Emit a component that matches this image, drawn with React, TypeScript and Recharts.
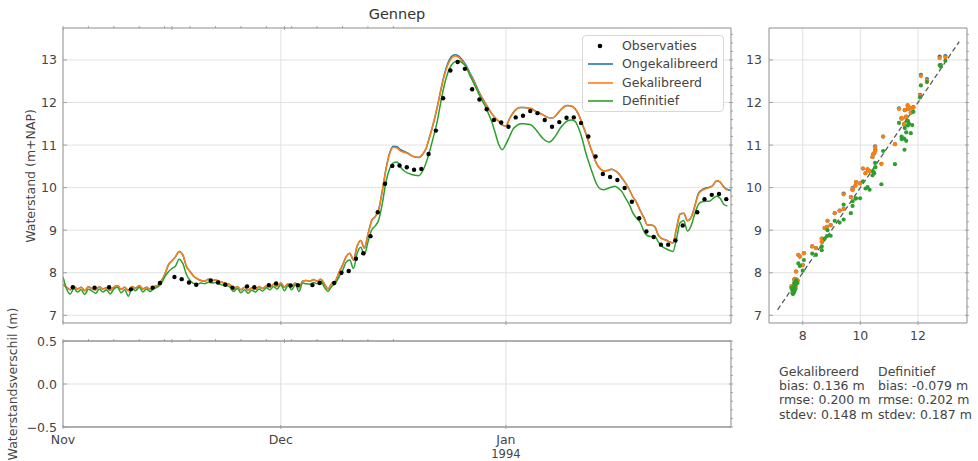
import React from 'react';
import {
  ComposedChart,
  ScatterChart,
  Line,
  Scatter,
  XAxis,
  YAxis,
  CartesianGrid,
  Legend,
  ReferenceLine,
} from 'recharts';

// ---------- data ----------
const STEP_DAYS = 0.5; // model output every half day, starting 1 Nov 1993

const orangeVals: (number | null)[] = [
  7.72, 7.66, 7.60, 7.68, 7.62, 7.66, 7.58, 7.67, 7.63, 7.60,
  7.67, 7.62, 7.65, 7.59, 7.66, 7.70, 7.61, 7.66, 7.58, 7.68,
  7.64, 7.70, 7.62, 7.66, 7.61, 7.67, 7.70, 7.80, 7.95, 8.18,
  8.28, 8.38, 8.50, 8.42, 8.15, 8.03, 7.92, 7.86, 7.82, 7.80,
  7.85, 7.82, 7.83, 7.80, 7.77, 7.75, 7.72, 7.62, 7.68, 7.60,
  7.66, 7.59, 7.64, 7.61, 7.67, 7.63, 7.69, 7.66, 7.73, 7.68,
  7.76, 7.66, 7.74, 7.68, 7.76, 7.65, 7.80, 7.82, 7.80, 7.84,
  7.80, 7.85, 7.74, 7.62, 7.75, 7.80, 8.00, 8.18, 8.38, 8.46,
  8.30, 8.62, 8.76, 8.58, 8.90, 9.22, 9.32, 9.50, 9.95, 10.45,
  10.80, 10.95, 10.93, 10.86, 10.83, 10.80, 10.75, 10.72, 10.71, 10.78,
  10.92, 11.20, 11.50, 11.85, 12.25, 12.62, 12.88, 13.04, 13.09, 13.06,
  12.97, 12.85, 12.68, 12.52, 12.33, 12.16, 12.02, 11.88, 11.75, 11.64,
  11.56, 11.47, 11.45, 11.62, 11.76, 11.85, 11.88, 11.88, 11.87, 11.86,
  11.80, 11.76, 11.72, 11.67, 11.64, 11.64, 11.72, 11.82, 11.90, 11.93,
  11.92, 11.86, 11.72, 11.50, 11.28, 11.02, 10.78, 10.56, 10.44, 10.39,
  10.40, 10.43, 10.40, 10.34, 10.22, 10.10, 9.95, 9.78, 9.65, 9.46,
  9.30, 9.12, 9.12, 9.08, 8.88, 8.80, 8.77, 8.73, 8.70, 9.05,
  9.38, 9.40, 9.22, 9.30, 9.55, 9.84, 9.93, 9.97, 10.00, 10.05,
  10.16, 10.13, 10.01, 9.94, null,
];

const blueVals: (number | null)[] = [
  7.72, 7.66, 7.60, 7.68, 7.62, 7.66, 7.58, 7.67, 7.63, 7.60,
  7.67, 7.62, 7.65, 7.59, 7.66, 7.70, 7.61, 7.66, 7.58, 7.68,
  7.64, 7.70, 7.62, 7.66, 7.61, 7.67, 7.70, 7.80, 7.95, 8.18,
  8.28, 8.38, 8.50, 8.42, 8.15, 8.03, 7.92, 7.86, 7.82, 7.80,
  7.85, 7.82, 7.83, 7.80, 7.77, 7.75, 7.72, 7.62, 7.68, 7.60,
  7.66, 7.59, 7.64, 7.61, 7.67, 7.63, 7.69, 7.66, 7.73, 7.68,
  7.76, 7.66, 7.74, 7.68, 7.76, 7.65, 7.80, 7.82, 7.80, 7.84,
  7.80, 7.85, 7.74, 7.62, 7.75, 7.80, 8.00, 8.18, 8.38, 8.46,
  8.30, 8.62, 8.76, 8.58, 8.90, 9.22, 9.32, 9.50, 9.95, 10.45,
  10.82, 10.97, 10.96, 10.89, 10.85, 10.81, 10.75, 10.72, 10.71, 10.78,
  10.92, 11.20, 11.50, 11.86, 12.27, 12.65, 12.92, 13.08, 13.12, 13.09,
  13.00, 12.88, 12.71, 12.55, 12.36, 12.18, 12.03, 11.89, 11.75, 11.64,
  11.56, 11.47, 11.45, 11.62, 11.76, 11.85, 11.88, 11.88, 11.87, 11.86,
  11.80, 11.76, 11.72, 11.67, 11.64, 11.64, 11.72, 11.82, 11.90, 11.93,
  11.92, 11.86, 11.72, 11.50, 11.28, 11.02, 10.78, 10.56, 10.44, 10.39,
  10.40, 10.43, 10.40, 10.34, 10.22, 10.10, 9.95, 9.78, 9.65, 9.46,
  9.30, 9.12, 9.12, 9.08, 8.88, 8.80, 8.77, 8.73, 8.70, 9.05,
  9.38, 9.40, 9.22, 9.30, 9.56, 9.86, 9.95, 9.99, 10.01, 10.05,
  10.16, 10.13, 10.02, 9.96, 9.93,
];

const greenVals: (number | null)[] = [
  7.90, 7.62, 7.50, 7.63, 7.55, 7.60, 7.49, 7.61, 7.57, 7.52,
  7.62, 7.55, 7.60, 7.50, 7.62, 7.66, 7.53, 7.60, 7.45, 7.64,
  7.58, 7.66, 7.55, 7.62, 7.56, 7.63, 7.66, 7.74, 7.90, 8.02,
  8.10, 8.16, 8.32, 8.22, 7.96, 7.82, 7.75, 7.73, 7.76, 7.74,
  7.78, 7.76, 7.77, 7.74, 7.71, 7.70, 7.66, 7.56, 7.63, 7.53,
  7.60, 7.52, 7.59, 7.55, 7.62, 7.57, 7.65, 7.60, 7.68, 7.62,
  7.72, 7.58, 7.70, 7.60, 7.72, 7.56, 7.76, 7.74, 7.73, 7.77,
  7.74, 7.80, 7.66, 7.56, 7.68, 7.75, 7.90, 8.05, 8.25, 8.30,
  8.10, 8.45, 8.60, 8.42, 8.72, 9.00, 9.10, 9.25, 9.65, 10.15,
  10.45, 10.58, 10.60, 10.48, 10.39, 10.34, 10.31, 10.29, 10.28, 10.38,
  10.58, 10.86, 11.18, 11.52, 11.98, 12.40, 12.70, 12.88, 12.96, 12.98,
  12.93, 12.84, 12.65, 12.48, 12.30, 12.12, 11.96, 11.78, 11.57, 11.30,
  11.02, 10.89, 11.02, 11.20, 11.38, 11.46, 11.50, 11.50, 11.49, 11.47,
  11.39, 11.28, 11.17, 11.10, 11.07, 11.14, 11.26, 11.40, 11.50, 11.57,
  11.59, 11.56, 11.40, 11.15, 10.82, 10.55, 10.30, 10.08, 9.97, 9.95,
  9.98, 10.01, 10.03, 9.98, 9.90, 9.75, 9.60, 9.40, 9.28, 9.18,
  8.98, 8.87, 8.85, 8.86, 8.72, 8.62, 8.57, 8.53, 8.50, 8.80,
  9.18, 9.22, 8.98, 9.10, 9.38, 9.60, 9.67, 9.68, 9.68, 9.74,
  9.80, 9.75, 9.61, 9.57, null,
];

// observation times (days since 1 Nov 1993) and water levels
const obsTimes = [
  1.35, 4.35, 6.35, 9.35, 12.35, 13.35, 15.35, 16.35, 17.35, 18.35,
  20.35, 21.35, 22.35, 23.35, 25.35, 26.35, 28.35, 29.35, 31.35, 32.35,
  34.35, 35.35, 37.35, 38.35, 39.35, 40.35, 41.35, 42.35, 43.35, 44.35,
  45.35, 46.35, 47.35, 48.35, 49.35, 50.35, 51.35, 52.35, 53.35, 54.35,
  55.35, 56.35, 57.35, 58.35, 59.35, 60.35, 61.35, 62.35, 63.35, 64.35,
  65.35, 66.35, 67.35, 68.35, 69.35, 70.35, 71.35, 72.35, 73.35, 74.35,
  75.35, 76.35, 77.35, 78.35, 79.35, 80.35, 81.35, 82.35, 83.35, 84.35,
  85.35, 87.35, 88.35, 89.35, 90.35, 91.35,
];
const obsValues = [
  7.66, 7.65, 7.66, 7.61, 7.65, 7.76, 7.90, 7.85, 7.77, 7.72,
  7.82, 7.77, 7.72, 7.65, 7.68, 7.66, 7.71, 7.75, 7.70, 7.71,
  7.71, 7.76, 7.76, 8.00, 8.04, 8.33, 8.46, 8.86, 9.42, 10.09,
  10.51, 10.52, 10.48, 10.42, 10.44, 10.79, 11.34, 12.10, 12.75, 12.95,
  12.79, 12.31, 12.07, 11.84, 11.59, 11.53, 11.43, 11.65, 11.69, 11.80,
  11.75, 11.59, 11.43, 11.54, 11.64, 11.65, 11.52, 11.20, 10.73, 10.32,
  10.25, 10.18, 9.99, 9.67, 9.28, 8.97, 8.84, 8.66, 8.66, 8.76,
  9.11, 9.42, 9.73, 9.83, 9.85, 9.73,
];

const monthTicks = [0, 30, 61];
const monthLabels = ['Nov', 'Dec', 'Jan'];
const yearLabel = '1994';
const weekTicks = [0, 7, 14, 21, 28, 30, 35, 42, 49, 56, 61, 63, 70, 77, 84, 91];
const levelTicks = [7, 8, 9, 10, 11, 12, 13];
const levelMinorTicks = [
  7, 7.2, 7.4, 7.6, 7.8, 8, 8.2, 8.4, 8.6, 8.8, 9, 9.2, 9.4, 9.6, 9.8, 10,
  10.2, 10.4, 10.6, 10.8, 11, 11.2, 11.4, 11.6, 11.8, 12, 12.2, 12.4, 12.6,
  12.8, 13, 13.2, 13.4, 13.6,
];
const diffTicks = [-0.5, 0, 0.5];
const diffLabels = ['\u22120.5', '0.0', '0.5'];
const diffMinorTicks = [-0.5, -0.4, -0.3, -0.2, -0.1, 0, 0.1, 0.2, 0.3, 0.4, 0.5];
const scatterXTicks = [8, 10, 12];
const scatterXMinorTicks = [7, 7.5, 8, 8.5, 9, 9.5, 10, 10.5, 11, 11.5, 12, 12.5, 13, 13.5];
const diagonalEnds = [7.13, 13.43];

const legendItems = [
  { label: 'Observaties', kind: 'dot', color: '#000000' },
  { label: 'Ongekalibreerd', kind: 'line', color: '#1f77b4' },
  { label: 'Gekalibreerd', kind: 'line', color: '#ff7f0e' },
  { label: 'Definitief', kind: 'line', color: '#2ca02c' },
];

const statsCols = [
  ['Gekalibreerd', 'bias: 0.136 m', 'rmse: 0.200 m', 'stdev: 0.148 m'],
  ['Definitief', 'bias: -0.079 m', 'rmse: 0.202 m', 'stdev: 0.187 m'],
];

// ---------- derived tables ----------
const seriesRows = orangeVals.map((o, i) => ({
  day: i * STEP_DAYS,
  blue: blueVals[i],
  orange: o,
  green: greenVals[i],
}));
const obsRows = obsTimes.map((t, i) => ({ day: t, obs: obsValues[i] }));
const pairRows = (vals: (number | null)[]) =>
  obsTimes
    .map((t, i) => ({ obs: obsValues[i], model: vals[Math.round(t / STEP_DAYS)] }))
    .filter((r) => r.model != null);
const scatterBlue = pairRows(blueVals);
const scatterOrange = pairRows(orangeVals);
const scatterGreen = pairRows(greenVals);

// ---------- styling ----------
const FONT = '"DejaVu Sans", Verdana, sans-serif';
const SPINE = '#9a9a9a';
const GRID = '#e2e2e2';
const TEXT = '#444444';
const FS = 12.5;
const BLUE = '#1f77b4';
const ORANGE = '#ff7f0e';
const GREEN = '#2ca02c';

type Side = 'left' | 'right' | 'top' | 'bottom';
const makeTick =
  (side: Side, opts: { margin?: number; majors?: number[]; labels?: (v: number) => string[] | null; labelDy?: number }) =>
  (props: any) => {
    const { x, y, payload } = props;
    const v = payload.value as number;
    const m = opts.margin ?? 0;
    const isMajor = !opts.majors || opts.majors.some((q) => Math.abs(q - v) < 1e-6);
    const len = isMajor ? 4 : 2.2;
    let x1 = x, x2 = x, y1 = y, y2 = y;
    if (side === 'left') { x1 = x + m; x2 = x1 + len; }
    else if (side === 'right') { x1 = x - m; x2 = x1 - len; }
    else if (side === 'top') { y1 = y + m; y2 = y1 + len; }
    else { y1 = y - m; y2 = y1 - len; }
    const lines = opts.labels ? opts.labels(v) : null;
    return (
      <g>
        <line x1={x1} y1={y1} x2={x2} y2={y2} stroke={SPINE} strokeWidth={0.9} />
        {lines &&
          lines.map((s, i) => (
            <text
              key={i}
              x={x}
              y={side === 'bottom' ? y + (opts.labelDy ?? 13) + i * 14 : y}
              dy={side === 'bottom' ? 0 : '0.36em'}
              textAnchor={side === 'left' ? 'end' : 'middle'}
              fontSize={i > 0 ? 11.5 : FS}
              fontFamily={FONT}
              fill={TEXT}
            >
              {s}
            </text>
          ))}
      </g>
    );
  };

const levelLabel = (v: number) => [String(v)];
const monthLabel = (v: number) => {
  const i = monthTicks.indexOf(v);
  if (i < 0) return null;
  return i === 2 ? [monthLabels[i], yearLabel] : [monthLabels[i]];
};
const diffLabel = (v: number) => {
  const i = diffTicks.findIndex((d) => Math.abs(d - v) < 1e-6);
  return i < 0 ? null : [diffLabels[i]];
};

const LegendBox = () => (
  <div
    style={{
      position: 'relative',
      width: 142,
      height: 77,
      boxSizing: 'border-box',
      border: '1px solid #d8d8d8',
      borderRadius: 4,
      background: 'rgba(255,255,255,0.85)',
      fontFamily: FONT,
      fontSize: FS,
      color: TEXT,
    }}
  >
    {legendItems.map((it, i) => (
      <div key={it.label} style={{ position: 'absolute', left: 0, top: 1 + i * 18.3, height: 18, width: 140 }}>
        <svg width={30} height={18} style={{ position: 'absolute', left: 4, top: 0 }}>
          {it.kind === 'dot' ? (
            <circle cx={13} cy={9} r={2.3} fill={it.color} />
          ) : (
            <line x1={1} x2={26} y1={9} y2={9} stroke={it.color} strokeWidth={1.6} />
          )}
        </svg>
        <span style={{ position: 'absolute', left: 39, top: 1, lineHeight: '16px', whiteSpace: 'nowrap' }}>{it.label}</span>
      </div>
    ))}
  </div>
);

const dotShape = (color: string, r: number) => (p: any) =>
  p.cx == null || p.cy == null ? <g /> : <circle cx={p.cx} cy={p.cy} r={r} fill={color} />;

const LEVEL_DOMAIN: [number, number] = [6.82, 13.75];
const DAY_DOMAIN: [number, number] = [0, 92];
const DIFF_DOMAIN: [number, number] = [-0.5, 0.5];
const SX_DOMAIN: [number, number] = [6.83, 13.7];

export default function App() {
  return (
    <div style={{ position: 'absolute', left: 0, top: 0, width: 978, height: 461, background: '#fff', overflow: 'hidden' }}>
      {/* main time series panel */}
      <div style={{ position: 'absolute', left: 0, top: 0 }}>
        <ComposedChart width={740} height={330} data={seriesRows} margin={{ top: 27, right: 8, bottom: 6, left: 0 }}>
          <CartesianGrid xAxisId="x" yAxisId="y" stroke={GRID} strokeWidth={1} />
          <XAxis xAxisId="x" dataKey="day" type="number" domain={DAY_DOMAIN} allowDataOverflow ticks={monthTicks} interval={0}
            height={1} tickSize={0} tickLine={false} axisLine={{ stroke: SPINE }} tick={makeTick('bottom', {})} />
          <XAxis xAxisId="top" orientation="top" type="number" domain={DAY_DOMAIN} allowDataOverflow ticks={weekTicks} interval={0}
            height={1} tickSize={0} tickLine={false} axisLine={{ stroke: SPINE }} tick={makeTick('top', { majors: monthTicks })} />
          <YAxis yAxisId="y" type="number" domain={LEVEL_DOMAIN} allowDataOverflow ticks={levelTicks} interval={0} width={63}
            tickSize={0} tickMargin={6} tickLine={false} axisLine={{ stroke: SPINE }}
            tick={makeTick('left', { margin: 6, labels: levelLabel })} />
          <YAxis yAxisId="right" orientation="right" type="number" domain={LEVEL_DOMAIN} allowDataOverflow ticks={levelMinorTicks} interval={0}
            width={1} tickSize={0} tickLine={false} axisLine={{ stroke: SPINE }}
            tick={makeTick('right', { majors: levelTicks })} />
          <Line xAxisId="x" yAxisId="y" dataKey="blue" type="monotone" stroke={BLUE} strokeWidth={1.5} dot={false} activeDot={false} isAnimationActive={false} />
          <Line xAxisId="x" yAxisId="y" dataKey="orange" type="monotone" stroke={ORANGE} strokeWidth={1.5} dot={false} activeDot={false} isAnimationActive={false} />
          <Line xAxisId="x" yAxisId="y" dataKey="green" type="monotone" stroke={GREEN} strokeWidth={1.5} dot={false} activeDot={false} isAnimationActive={false} />
          <Scatter xAxisId="x" yAxisId="y" data={obsRows} dataKey="obs" fill="#000" shape={dotShape('#000', 2.2)} isAnimationActive={false} />
          <Legend layout="vertical" align="center" verticalAlign="middle"
            wrapperStyle={{ left: 582, top: 35, width: 142, height: 77 }} content={() => <LegendBox />} />
        </ComposedChart>
      </div>

      {/* residual panel */}
      <div style={{ position: 'absolute', left: 0, top: 330 }}>
        <ComposedChart width={740} height={131} data={seriesRows} margin={{ top: 10, right: 8, bottom: 33, left: 0 }}>
          <CartesianGrid xAxisId="x" yAxisId="y" stroke={GRID} strokeWidth={1.2} />
          <XAxis xAxisId="x" dataKey="day" type="number" domain={DAY_DOMAIN} allowDataOverflow ticks={monthTicks} interval={0}
            height={1} tickSize={0} tickLine={false} axisLine={{ stroke: SPINE, strokeWidth: 1.5 }}
            tick={makeTick('bottom', { labels: monthLabel, labelDy: 15 })} />
          <XAxis xAxisId="top" orientation="top" type="number" domain={DAY_DOMAIN} allowDataOverflow ticks={weekTicks} interval={0}
            height={1} tickSize={0} tickLine={false} axisLine={{ stroke: SPINE, strokeWidth: 1.5 }}
            tick={makeTick('top', { majors: monthTicks })} />
          <YAxis yAxisId="y" type="number" domain={DIFF_DOMAIN} allowDataOverflow ticks={diffTicks} interval={0} width={63}
            tickSize={0} tickMargin={6} tickLine={false} axisLine={{ stroke: SPINE }}
            tick={makeTick('left', { margin: 6, labels: diffLabel })} />
          <YAxis yAxisId="right" orientation="right" type="number" domain={DIFF_DOMAIN} allowDataOverflow ticks={diffMinorTicks} interval={0}
            width={1} tickSize={0} tickLine={false} axisLine={{ stroke: SPINE }}
            tick={makeTick('right', { majors: diffTicks })} />
        </ComposedChart>
      </div>

      {/* scatter panel */}
      <div style={{ position: 'absolute', left: 740, top: 0 }}>
        <ScatterChart width={238} height={345} margin={{ top: 27, right: 10, bottom: 21, left: 0 }}>
          <CartesianGrid xAxisId="sx" yAxisId="sy" stroke={GRID} strokeWidth={1} />
          <XAxis xAxisId="sx" dataKey="obs" type="number" domain={SX_DOMAIN} allowDataOverflow ticks={scatterXTicks} interval={0}
            height={1} tickSize={0} tickLine={false} axisLine={{ stroke: SPINE }}
            tick={makeTick('bottom', { labels: levelLabel, labelDy: 15 })} />
          <XAxis xAxisId="stop" orientation="top" type="number" domain={SX_DOMAIN} allowDataOverflow ticks={scatterXMinorTicks} interval={0}
            height={1} tickSize={0} tickLine={false} axisLine={{ stroke: SPINE }}
            tick={makeTick('top', { majors: scatterXTicks })} />
          <YAxis yAxisId="sy" dataKey="model" type="number" domain={LEVEL_DOMAIN} allowDataOverflow ticks={levelTicks} interval={0} width={29}
            tickSize={0} tickMargin={7} tickLine={false} axisLine={{ stroke: SPINE }}
            tick={makeTick('left', { margin: 7, labels: levelLabel })} />
          <YAxis yAxisId="sright" orientation="right" type="number" domain={LEVEL_DOMAIN} allowDataOverflow ticks={levelMinorTicks} interval={0}
            width={1} tickSize={0} tickLine={false} axisLine={{ stroke: SPINE }}
            tick={makeTick('right', { majors: levelTicks })} />
          <Scatter xAxisId="sx" yAxisId="sy" data={scatterBlue} fill={BLUE} shape={dotShape(BLUE, 2.1)} isAnimationActive={false} />
          <Scatter xAxisId="sx" yAxisId="sy" data={scatterOrange} fill={ORANGE} shape={dotShape(ORANGE, 2.1)} isAnimationActive={false} />
          <Scatter xAxisId="sx" yAxisId="sy" data={scatterGreen} fill={GREEN} shape={dotShape(GREEN, 2.1)} isAnimationActive={false} />
          <ReferenceLine xAxisId="sx" yAxisId="sy"
            segment={[{ x: diagonalEnds[0], y: diagonalEnds[0] }, { x: diagonalEnds[1], y: diagonalEnds[1] }]}
            stroke="#555" strokeWidth={1.2} strokeDasharray="5 3" ifOverflow="visible" />
        </ScatterChart>
      </div>

      {/* title and axis labels */}
      <svg width={978} height={461} style={{ position: 'absolute', left: 0, top: 0, pointerEvents: 'none' }}>
        <text x={397} y={19} textAnchor="middle" fontFamily={FONT} fontSize={14.5} fill="#333">Gennep</text>
        <text transform="translate(35,176) rotate(-90)" textAnchor="middle" fontFamily={FONT} fontSize={FS} fill={TEXT}>
          Waterstand (m+NAP)
        </text>
        <text transform="translate(17,384) rotate(-90)" textAnchor="middle" fontFamily={FONT} fontSize={FS} fill={TEXT}>
          Waterstandsverschil (m)
        </text>
      </svg>

      {/* statistics */}
      {statsCols.map((col, c) => (
        <div key={c} style={{ position: 'absolute', left: c === 0 ? 779 : 878, top: 365, fontFamily: FONT, fontSize: FS, color: TEXT, lineHeight: '14.2px', whiteSpace: 'nowrap' }}>
          {col.map((s) => (
            <div key={s}>{s}</div>
          ))}
        </div>
      ))}
    </div>
  );
}
